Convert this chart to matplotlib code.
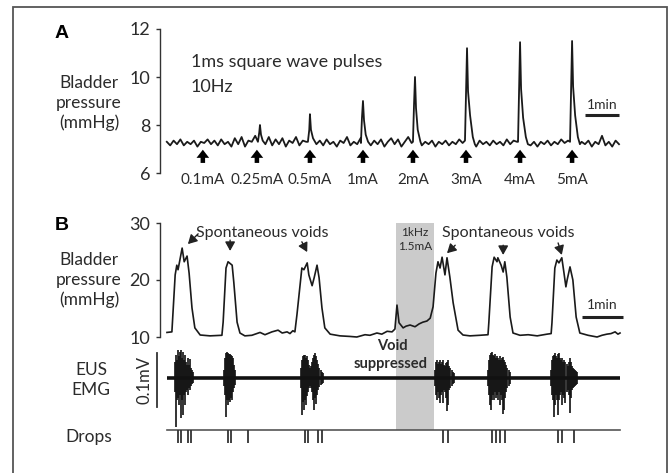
import matplotlib
matplotlib.use('Agg')
import matplotlib.pyplot as plt
import numpy as np
from matplotlib.patches import Rectangle

plt.rcParams['font.family'] = ['Lato', 'DejaVu Sans']

# ---------------- Panel A data (time in min, pressure in mmHg) ----------------
A_base_t0 = 0.2
A_base_dt = 0.1
A_base_vals = [
    7.3, 7.15, 7.35, 7.2, 7.4, 7.15, 7.3, 7.2, 7.35, 7.1,
    7.3, 7.25, 7.4, 7.2, 7.35, 7.15, 7.4, 7.2, 7.3, 7.1,
    7.45, 7.2, 7.5, 7.1, 7.35, 7.3, 7.55, 7.2, 7.3, 7.2,
    7.5, 7.15, 7.4, 7.2, 7.45, 7.1, 7.35, 7.25, 7.5, 7.15,
    7.35, 7.3, 7.3, 7.45, 7.2, 7.35, 7.15, 7.4, 7.2, 7.3,
    7.1, 7.35, 7.25, 7.5, 7.15, 7.3, 7.2, 7.45, 7.3, 7.4,
    7.15, 7.35, 7.2, 7.4, 7.1, 7.3, 7.45, 7.2, 7.4, 7.1,
    7.3, 7.5, 7.25, 7.3, 7.4, 7.15, 7.3, 7.2, 7.35, 7.1,
    7.3, 7.2, 7.35, 7.15, 7.3, 7.2, 7.4, 7.25, 7.3, 7.2,
    7.3, 7.1, 7.35, 7.2, 7.3, 7.15, 7.35, 7.2, 7.3, 7.15,
    7.4, 7.2, 7.35, 7.3, 7.3, 7.2, 7.35, 7.15, 7.3, 7.1,
    7.3, 7.2, 7.35, 7.15, 7.3, 7.2, 7.4, 7.25, 7.35, 7.3,
    7.3, 7.15, 7.3, 7.2, 7.35, 7.1, 7.3, 7.2, 7.55, 7.15,
    7.3, 7.1, 7.35, 7.2,
]
# evoked peaks: (time, pressure) vertices
A_peaks = [
    [(2.88, 7.3), (2.92, 7.7), (2.94, 8.0), (2.97, 7.6), (3.02, 7.35)],
    [(4.35, 7.3), (4.39, 7.8), (4.41, 8.45), (4.44, 7.8), (4.50, 7.45), (4.56, 7.3)],
    [(5.91, 7.25), (5.94, 8.3), (5.97, 9.0), (6.00, 8.2), (6.05, 7.6), (6.12, 7.3)],
    [(7.44, 7.3), (7.47, 8.8), (7.50, 10.0), (7.53, 8.7), (7.58, 7.8), (7.66, 7.3)],
    [(8.97, 7.35), (9.00, 9.3), (9.03, 11.2), (9.06, 9.4), (9.12, 8.4), (9.20, 7.5), (9.26, 7.2)],
    [(10.53, 7.3), (10.56, 9.4), (10.59, 11.45), (10.62, 9.5), (10.68, 8.3), (10.76, 7.5), (10.82, 7.2)],
    [(12.06, 7.3), (12.09, 9.5), (12.12, 11.5), (12.15, 9.6), (12.21, 8.4), (12.29, 7.5), (12.35, 7.2)],
]
A_stim_t = [1.26, 2.85, 4.41, 5.97, 7.44, 9.00, 10.59, 12.12]
A_stim_labels = ['0.1mA', '0.25mA', '0.5mA', '1mA', '2mA', '3mA', '4mA', '5mA']

# ---------------- Panel B data ----------------
B_t = [0.17, 0.29, 0.37, 0.41, 0.44, 0.54, 0.59, 0.66, 0.71, 0.78, 0.85, 0.98, 1.22, 1.51,
       1.54, 1.61, 1.66, 1.76, 1.80, 1.88, 1.95, 2.07, 2.24, 2.44, 2.56, 2.73, 2.88, 2.98,
       3.10, 3.17, 3.24, 3.29, 3.34, 3.46, 3.51, 3.59, 3.63, 3.71, 3.76, 3.83, 3.88, 3.95,
       4.02, 4.15, 4.39, 4.63, 4.80, 5.00, 5.12, 5.29, 5.41, 5.54, 5.66, 5.73, 5.78, 5.83,
       5.93, 6.00, 6.10, 6.22, 6.32, 6.41, 6.51, 6.59, 6.66, 6.73, 6.78, 6.83, 6.88, 6.95,
       7.00, 7.07, 7.15, 7.27, 7.39, 7.56, 7.80, 8.00, 8.02, 8.10, 8.15, 8.22, 8.24, 8.32,
       8.37, 8.41, 8.46, 8.54, 8.61, 8.78, 8.98, 9.20, 9.44, 9.54, 9.56, 9.63, 9.68, 9.73,
       9.80, 9.85, 9.90, 9.93, 10.00, 10.07, 10.15, 10.24, 10.44, 10.66, 10.78, 10.90,
       11.00, 11.10, 11.17, 11.22]
B_p = [10.8, 10.9, 20.9, 22.6, 21.8, 25.6, 23.2, 24.2, 21.2, 15.1, 11.6, 10.35, 10.2, 10.3,
       12.6, 22.1, 23.2, 22.6, 19.6, 12.6, 10.7, 10.2, 10.3, 10.8, 10.4, 10.9, 11.2, 10.7,
       10.9, 10.6, 11.1, 10.9, 13.9, 22.1, 21.8, 23.0, 20.9, 19.0, 20.4, 22.6, 20.4, 15.1,
       11.6, 10.5, 10.2, 10.1, 10.0, 10.4, 10.3, 10.7, 10.5, 11.0, 10.9, 11.4, 15.6, 12.5,
       11.6, 11.9, 12.1, 11.8, 12.3, 12.6, 12.8, 13.3, 15.3, 21.2, 23.2, 22.1, 24.0, 20.9,
       23.9, 20.5, 16.0, 11.2, 10.35, 10.2, 10.3, 10.4, 12.5, 22.3, 24.0, 23.2, 23.9, 22.6,
       21.4, 23.2, 20.5, 13.5, 10.7, 10.3, 10.4, 10.2, 10.5, 10.6, 12.5, 22.1, 23.5, 23.0,
       23.9, 21.4, 18.8, 20.0, 22.3, 20.0, 13.5, 10.7, 10.3, 10.0, 10.3, 10.5,
       10.6, 10.9, 10.5, 10.7]
B_stim_span = (5.76, 6.68)
# void annotation arrows: (tail t, tail p, head t, head p)
B_void_arrows_1 = [(0.93, 28.1, 0.68, 26.3), (1.71, 27.0, 1.71, 25.1), (3.46, 26.7, 3.59, 24.9)]
B_void_arrows_2 = [(7.20, 26.1, 7.00, 24.7), (8.37, 26.1, 8.37, 24.4), (9.71, 26.5, 9.80, 24.4)]

# EMG (µV); envelope sampled every EMG_DT min starting at burst start
EMG_DT = 0.025
EMG_span = (0.17, 11.22)
EMG_burst_start = [0.366, 1.56, 3.44, 6.71, 8.00, 9.54]
EMG_top = [
    [30, 43, 33, 52, 41, 48, 52, 37, 48, 33, 43, 30, 24, 37, 24, 35, 19, 15, 11],
    [15, 37, 46, 48, 46, 44, 44, 43, 41, 37, 24, 15],
    [19, 33, 41, 43, 43, 37, 41, 33, 24, 19, 22, 30, 37, 43, 46, 41, 33, 26, 19, 15, 11, 9],
    [15, 30, 33, 26, 30, 33, 26, 30, 33, 24, 22, 28, 30, 33, 22, 19, 15, 11, 9],
    [15, 33, 43, 46, 48, 43, 41, 44, 37, 41, 37, 33, 41, 33, 37, 39, 33, 30, 24, 19, 15, 11],
    [15, 33, 41, 43, 46, 41, 37, 44, 46, 37, 33, 37, 30, 33, 30, 26, 22, 30, 37, 30, 22, 19, 17, 15, 13, 11],
]
EMG_bot = [
    [-26, -91, -41, -37, -50, -31, -74, -41, -69, -31, -50, -26, -22, -31, -19, -22, -15, -11, -9],
    [-15, -31, -72, -41, -50, -41, -44, -37, -41, -26, -19, -13],
    [-19, -69, -44, -59, -41, -50, -33, -26, -19, -15, -19, -26, -41, -59, -37, -48, -31, -22, -17, -13, -11, -9],
    [-15, -31, -41, -26, -37, -46, -31, -26, -46, -22, -26, -37, -61, -50, -22, -19, -15, -11, -9],
    [-15, -31, -50, -59, -41, -31, -41, -26, -37, -31, -41, -26, -50, -31, -41, -67, -59, -37, -26, -19, -15, -11],
    [-15, -31, -41, -72, -50, -31, -41, -69, -41, -31, -26, -50, -31, -37, -46, -26, -22, -31, -65, -37, -22, -19, -17, -15, -13, -11],
]
Drop_t = [0.44, 0.51, 0.68, 0.76, 1.66, 1.73, 2.15, 3.54, 3.61, 3.85, 3.95,
          6.90, 7.02, 8.10, 8.20, 8.29, 8.41, 9.71, 9.80, 10.10]

# ---------------- figure ----------------
W, H = 672, 473
fig = plt.figure(figsize=(W / 100, H / 100), dpi=100)
def fx(px): return px / W
def fy(py): return 1 - py / H

TXT = '#2b2b2b'
LINE = '#1a1a1a'

fig.patches.append(Rectangle((fx(13), -0.05), fx(667) - fx(13), fy(7) + 0.05,
                             transform=fig.transFigure, fill=False, ec='#555555', lw=1.3))

def style_left(ax, ticks):
    for s in ['top', 'right', 'bottom']:
        ax.spines[s].set_visible(False)
    ax.spines['left'].set_color('#333333')
    ax.spines['left'].set_linewidth(1.0)
    ax.set_xticks([])
    ax.set_yticks(ticks)
    ax.tick_params(axis='y', direction='out', length=3, width=1, colors='#333333',
                   labelsize=13, labelcolor=TXT, pad=4)
    ax.patch.set_alpha(0)

# Panel A
axA = fig.add_axes([fx(160), fy(173), fx(625) - fx(160), (173 - 29) / H])
axA.set_xlim(0, 465 / 34)
axA.set_ylim(6, 12)
style_left(axA, [6, 8, 10, 12])

base_t = A_base_t0 + A_base_dt * np.arange(len(A_base_vals))
pts = []
for t, v in zip(base_t, A_base_vals):
    if not any(pk[0][0] <= t <= pk[-1][0] for pk in A_peaks):
        pts.append((t, v))
for pk in A_peaks:
    pts.extend(pk)
pts.sort()
axA.plot([p[0] for p in pts], [p[1] for p in pts], color=LINE, lw=1.3, clip_on=False)

for t, lab in zip(A_stim_t, A_stim_labels):
    axA.annotate('', xy=(t, 6.97), xytext=(t, 6.42), annotation_clip=False,
                 arrowprops=dict(arrowstyle='simple,head_length=0.45,head_width=0.7,tail_width=0.25',
                                 fc='black', ec='black', lw=0, mutation_scale=13,
                                 shrinkA=0, shrinkB=0))
    axA.text(t, 5.72, lab, ha='center', va='center', fontsize=11, color=TXT, clip_on=False)

axA.plot([12.5, 13.5], [8.42, 8.42], color='#222222', lw=2.2, solid_capstyle='butt')
axA.text(13.0, 8.85, '1min', ha='center', va='center', fontsize=10, color=TXT)
axA.text(0.91, 10.63, '1ms square wave pulses', ha='left', va='center', fontsize=13, color=TXT)
axA.text(0.91, 9.6, '10Hz', ha='left', va='center', fontsize=13, color=TXT)

# Panel B pressure
axB = fig.add_axes([fx(160), fy(337), fx(625) - fx(160), (337 - 223) / H])
axB.set_xlim(0, 465 / 41)
axB.set_ylim(10, 30)
style_left(axB, [10, 20, 30])
axB.axvspan(*B_stim_span, color='#cbcbcb', lw=0, zorder=0)
axB.plot(B_t, B_p, color=LINE, lw=1.2, clip_on=False)
axB.text(sum(B_stim_span) / 2, 28.4, '1kHz', ha='center', va='center', fontsize=8.5, color=TXT)
axB.text(sum(B_stim_span) / 2, 25.8, '1.5mA', ha='center', va='center', fontsize=8.5, color=TXT)
axB.text(2.49, 28.2, 'Spontaneous voids', ha='center', va='center', fontsize=11.5, color=TXT)
axB.text(8.49, 28.2, 'Spontaneous voids', ha='center', va='center', fontsize=11.5, color=TXT)
for (t0, p0, t1, p1) in B_void_arrows_1 + B_void_arrows_2:
    axB.annotate('', xy=(t1, p1), xytext=(t0, p0), annotation_clip=False,
                 arrowprops=dict(arrowstyle='-|>,head_length=0.45,head_width=0.25',
                                 color='#222222', lw=1.0, mutation_scale=12, shrinkA=0, shrinkB=0))
axB.plot([10.29, 11.29], [13.5, 13.5], color='#222222', lw=2.2, solid_capstyle='butt')
axB.text(10.79, 15.6, '1min', ha='center', va='center', fontsize=10, color=TXT)

# EMG
axE = fig.add_axes([fx(160), fy(430), fx(625) - fx(160), (430 - 337) / H])
axE.set_xlim(0, 465 / 41)
axE.set_ylim(-96.3, 75.9)
axE.axis('off')
axE.axvspan(*B_stim_span, color='#cbcbcb', lw=0, zorder=0)
axE.plot(EMG_span, [0, 0], color='#111111', lw=2.6, solid_capstyle='butt')
for st, top, bot in zip(EMG_burst_start, EMG_top, EMG_bot):
    tt = st + EMG_DT * np.arange(len(top))
    axE.vlines(tt, bot, top, color='#111111', lw=1.2)
axE.plot([-0.073, -0.073], [46, -54], color='#333333', lw=1.3, clip_on=False)
axE.text(-0.37, -4, '0.1mV', rotation=90, ha='center', va='center', fontsize=12, color=TXT, clip_on=False)
axE.text(5.66, 60, 'Void', ha='center', va='center', fontsize=10.5, fontweight='bold', color=TXT)
axE.text(5.63, 26, 'suppressed', ha='center', va='center', fontsize=10.5, fontweight='bold', color=TXT)

# Drops
axD = fig.add_axes([fx(160), fy(445), fx(625) - fx(160), 15 / H])
axD.set_xlim(0, 465 / 41)
axD.set_ylim(0, 1)
axD.axis('off')
axD.plot(EMG_span, [1, 1], color='#555555', lw=1.2, clip_on=False)
axD.vlines(Drop_t, 0.13, 1, color='#333333', lw=1.3, clip_on=False)

# labels
fig.text(fx(62), fy(34), 'A', family='Liberation Sans', fontweight='bold', fontsize=14, ha='center', va='center', color='black')
fig.text(fx(62), fy(225), 'B', family='Liberation Sans', fontweight='bold', fontsize=14, ha='center', va='center', color='black')
fig.text(fx(89), fy(103), 'Bladder\npressure\n(mmHg)', ha='center', va='center', fontsize=12.5, color=TXT, linespacing=1.25)
fig.text(fx(89), fy(280), 'Bladder\npressure\n(mmHg)', ha='center', va='center', fontsize=12.5, color=TXT, linespacing=1.25)
fig.text(fx(91), fy(380), 'EUS\nEMG', ha='center', va='center', fontsize=12.5, color=TXT, linespacing=1.25)
fig.text(fx(89), fy(437), 'Drops', ha='center', va='center', fontsize=12.5, color=TXT)

fig.savefig('out.png', dpi=100)
